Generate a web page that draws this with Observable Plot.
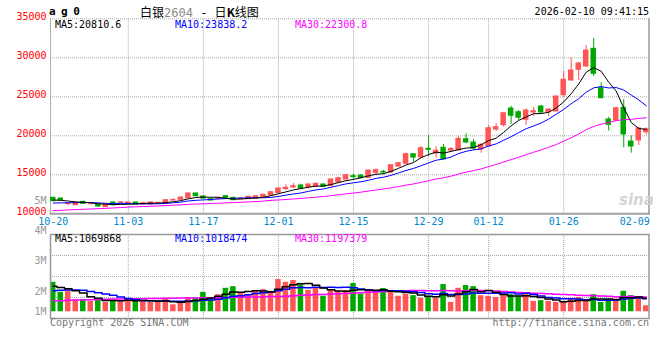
<!DOCTYPE html>
<html><head><meta charset="utf-8">
<script src="https://cdn.jsdelivr.net/npm/d3@7"></script>
<script src="https://cdn.jsdelivr.net/npm/@observablehq/plot@0.6"></script>
<style>
body{margin:0;background:#fff;}
#wrap{position:relative;width:660px;height:360px;overflow:hidden;font-family:"DejaVu Sans Mono",monospace;}
.t{position:absolute;white-space:nowrap;font-size:10px;line-height:12px;}
#wrap svg{position:absolute;left:0;}
</style></head><body><div id="wrap"></div>
<script>
// ---- data ----
const dates = [
"2025-10-20","2025-10-21","2025-10-22","2025-10-23","2025-10-24","2025-10-27","2025-10-28","2025-10-29","2025-10-30","2025-10-31",
"2025-11-03","2025-11-04","2025-11-05","2025-11-06","2025-11-07","2025-11-10","2025-11-11","2025-11-12","2025-11-13","2025-11-14",
"2025-11-17","2025-11-18","2025-11-19","2025-11-20","2025-11-21","2025-11-24","2025-11-25","2025-11-26","2025-11-27","2025-11-28",
"2025-12-01","2025-12-02","2025-12-03","2025-12-04","2025-12-05","2025-12-08","2025-12-09","2025-12-10","2025-12-11","2025-12-12",
"2025-12-15","2025-12-16","2025-12-17","2025-12-18","2025-12-19","2025-12-22","2025-12-23","2025-12-24","2025-12-25","2025-12-26",
"2025-12-29","2025-12-30","2025-12-31","2026-01-05","2026-01-06","2026-01-07","2026-01-08","2026-01-09",
"2026-01-12","2026-01-13","2026-01-14","2026-01-15","2026-01-16","2026-01-19","2026-01-20","2026-01-21","2026-01-22","2026-01-23",
"2026-01-26","2026-01-27","2026-01-28","2026-01-29","2026-01-30","2026-02-02","2026-02-03","2026-02-04","2026-02-05","2026-02-06",
"2026-02-09","2026-02-10"];
const tickDates = ["2025-10-20","2025-11-03","2025-11-17","2025-12-01","2025-12-15","2025-12-29","2026-01-12","2026-01-26","2026-02-09"];

const open = [12050,11960,11256,11103,11538,11230,11192,10846,11449,11410,
 11340,11449,11192,11192,11350,11359,11700,11795,12000,12602,
 12218,11872,11923,12256,12051,11923,11872,11930,12090,12346,
 12667,13154,13372,13628,13372,13500,13756,13590,14013,14397,
 14820,14910,14615,15256,15384,15295,16064,16410,17641,17218,
 18333,17731,18461,18115,18115,19564,19141,18243,18628,20807,
 21358,23499,23025,22051,22987,23756,23025,23115,25205,27089,
 28461,28884,31153,26102,22089,21961,23589,19269,19397,20461];
const high = [12120,12030,11450,11513,11600,11380,11256,11250,11520,11577,
 11480,11480,11400,11480,11490,11780,11961,12150,12650,12650,
 12300,11950,12128,12346,12100,12090,12230,12360,12500,12830,
 13300,13718,13884,13800,13846,13974,13800,14450,14692,15000,
 15077,15000,15600,15769,15551,16280,16577,17770,17700,18628,
 20038,18590,18884,18500,19910,20256,19525,18974,21320,21576,
 23025,23794,23243,23461,23628,23910,23400,25100,28243,30000,
 29436,31576,32474,26794,22384,23666,24653,19999,21102,21025];
const low = [11560,11640,11064,11064,11220,11190,10808,10800,11050,11282,
 11300,11160,11150,11170,11282,11330,11667,11760,11980,12200,
 11900,11650,11795,11930,11700,11833,11840,11900,12050,12300,
 12602,12987,13243,13200,13154,13410,13420,13550,13846,14350,
 14436,14500,14580,15038,15038,15200,15936,16282,16615,17150,
 17346,17128,16923,17900,18050,18974,18115,17769,18550,20551,
 21102,21448,21961,21320,22474,22897,22474,23050,24948,27000,
 27089,28800,27601,24750,20589,21871,18461,17769,18756,20077];
const close = [11615,11705,11333,11449,11282,11330,10936,11192,11103,11461,
 11449,11192,11360,11449,11400,11744,11760,12090,12602,12256,
 11961,11705,12026,11961,11744,11987,12180,12250,12436,12769,
 13243,13333,13538,13243,13756,13846,13461,14397,14564,14949,
 14692,14564,15551,15590,15295,16230,16487,17641,17218,18410,
 18205,18077,17000,18307,19615,19141,18372,18846,20974,21102,
 22897,22564,22307,23243,23153,22987,23371,25038,27179,28371,
 29269,30935,27948,24820,21410,23538,20166,18628,20935,20846];
const volume = [2360000,1560000,1640000,970000,970000,830000,1030000,750000,890000,890000,
 1030000,830000,890000,750000,750000,1070000,560000,670000,1100000,1100000,
 1560000,1070000,1370000,1880000,2010000,1510000,1370000,1640000,1770000,1640000,
 2580000,2360000,2500000,2150000,1720000,1910000,1240000,1770000,1640000,1690000,
 2260000,1420000,1690000,1560000,1860000,1690000,1240000,1390000,1290000,1070000,
 1240000,1070000,2180000,750000,1880000,2100000,2010000,1290000,1240000,1130000,
 1290000,1370000,1240000,1370000,830000,890000,830000,750000,750000,1030000,
 1150000,830000,1370000,750000,970000,970000,1640000,1290000,1070000,480000];

// moving-average values before the window fills
const ma5Lead = [11770,11730,11640,11510];
const ma10Lead = [11380,11400,11420,11430,11440,11440,11400,11350,11300];
const ma30Lead = [10420,10440,10500,10540,10570,10620,10660,10690,10750,10800,10850,10900,10930,10970,11010,11060,11100,11150,11200,11250,11280,11320,11360,11400,11440,11480,11520,11570,11630];
const vma5Lead = [2050000,1950000,1850000,1680000];
const vma10Lead = [1690000,1720000,1750000,1750000,1720000,1620000,1520000,1420000,1320000];
const vma30Lead = [890000,890000,920000,940000,940000,960000,980000,1000000,1020000,1020000,1030000,1040000,1050000,1060000,1070000,1080000,1090000,1100000,1100000,1110000,1120000,1130000,1140000,1150000,1160000,1170000,1180000,1190000,1200000];

const priceTicks = [10000,15000,20000,25000,30000,35000];
const volTicks = [1000000,2000000,3000000,4000000,5000000];
const maLabels = ["MA5:20810.6","MA10:23838.2","MA30:22300.8"];
const vmaLabels = ["MA5:1069868","MA10:1018474","MA30:1197379"];
const maColors = ["#000000","#0000ff","#ff00ff"];

// ---- build ----
function movingAverage(values, k, lead) {
  return values.map((v, i) => i < k - 1 ? lead[i] : d3.mean(values.slice(i - k + 1, i + 1)));
}
const ma5 = movingAverage(close, 5, ma5Lead), ma10 = movingAverage(close, 10, ma10Lead), ma30 = movingAverage(close, 30, ma30Lead);
const vma5 = movingAverage(volume, 5, vma5Lead), vma10 = movingAverage(volume, 10, vma10Lead), vma30 = movingAverage(volume, 30, vma30Lead);
const rows = dates.map((d, i) => ({date: d, open: open[i], high: high[i], low: low[i], close: close[i], vol: volume[i],
  ma5: ma5[i], ma10: ma10[i], ma30: ma30[i], vma5: vma5[i], vma10: vma10[i], vma30: vma30[i]}));
const up = rows.filter(r => r.close >= r.open), down = rows.filter(r => r.close < r.open);
const RED = "#ff5555", GREEN = "#00a800", GRID = "#a8a8a8";
const fmtDate = d => d.slice(5);
const xOpt = {type: "band", domain: dates, paddingInner: 0.27, paddingOuter: 0, round: false};
const svgStyle = {fontFamily: "DejaVu Sans Mono, monospace", fontSize: "10px", background: "transparent", overflow: "visible"};

const wrap = document.getElementById("wrap");
function place(el, top) { el.style.position = "absolute"; el.style.top = top + "px"; el.style.left = "0px"; wrap.appendChild(el); }

const main = Plot.plot({
  width: 660, height: 232, marginLeft: 50, marginRight: 11.5, marginTop: 18.3, marginBottom: 18.7,
  style: svgStyle,
  x: xOpt,
  y: {domain: [10000, 35000]},
  marks: [
    Plot.gridY(priceTicks.slice(1), {stroke: GRID, strokeOpacity: 1, strokeDasharray: "1,1"}),
    Plot.gridX(tickDates.slice(1, 8), {stroke: GRID, strokeOpacity: 1, strokeDasharray: "1,1"}),
    Plot.frame({anchor: "left", stroke: GRID, strokeDasharray: "1,1"}),
    Plot.frame({anchor: "right", stroke: "#999", strokeWidth: 1.5}),
    Plot.frame({anchor: "bottom", stroke: "#a0a0a0", strokeWidth: 2}),
    Plot.ruleX(up, {x: "date", y1: "low", y2: "high", stroke: RED}),
    Plot.ruleX(down, {x: "date", y1: "low", y2: "high", stroke: GREEN}),
    Plot.barY(up, {x: "date", y1: "open", y2: "close", fill: RED, insetTop: -0.5, insetBottom: -0.5}),
    Plot.barY(down, {x: "date", y1: "open", y2: "close", fill: GREEN, insetTop: -0.5, insetBottom: -0.5}),
    Plot.line(rows, {x: "date", y: "ma30", stroke: maColors[2], strokeWidth: 1}),
    Plot.line(rows, {x: "date", y: "ma10", stroke: maColors[1], strokeWidth: 1}),
    Plot.line(rows, {x: "date", y: "ma5", stroke: maColors[0], strokeWidth: 1}),
    Plot.axisY(priceTicks, {label: null, tickFormat: "d", tickSize: 0, tickPadding: 4, dy: -2, color: "#ff0000", fontSize: 10}),
    Plot.axisX(tickDates.slice(0, 8), {label: null, tickFormat: fmtDate, tickSize: 0, tickPadding: 4.5, color: "#0088cc", fontSize: 10}),
    Plot.axisX(tickDates.slice(8), {label: null, tickFormat: fmtDate, tickSize: 0, tickPadding: 4.5, color: "#0088cc", fontSize: 10, textAnchor: "end", dx: 11})
  ]
});
place(main, 0);

const volLo = -540000, volHi = 6190000;
const volGrid = [1, 2, 3].map(k => volLo + (volHi - volLo) * k / 4);
const vol = Plot.plot({
  width: 660, height: 100, marginLeft: 50, marginRight: 11.5, marginTop: 8, marginBottom: 8,
  style: svgStyle,
  x: {...xOpt, axis: null},
  y: {domain: [volLo, volHi], axis: null},
  marks: [
    Plot.gridY(volGrid, {stroke: GRID, strokeOpacity: 1, strokeDasharray: "1,1"}),
    Plot.gridX(tickDates.slice(1, 8), {stroke: GRID, strokeOpacity: 1, strokeDasharray: "1,1"}),
    Plot.barY(up, {x: "date", y: "vol", fill: RED}),
    Plot.barY(down, {x: "date", y: "vol", fill: GREEN}),
    Plot.line(rows, {x: "date", y: "vma30", stroke: maColors[2], strokeWidth: 1.5, curve: "step"}),
    Plot.line(rows, {x: "date", y: "vma10", stroke: maColors[1], strokeWidth: 1.5, curve: "step"}),
    Plot.line(rows, {x: "date", y: "vma5", stroke: maColors[0], strokeWidth: 1.5, curve: "step"}),
    Plot.frame({stroke: "#999", strokeWidth: 1.5})
  ]
});
place(vol, 226);

const volAxis = Plot.plot({
  width: 60, height: 140, marginLeft: 50, marginRight: 10, marginTop: 0, marginBottom: 0,
  style: svgStyle,
  y: {domain: [2000000, 5000000], range: [101, 10]},
  marks: [
    Plot.axisY(volTicks.slice(1), {label: null, tickFormat: d => d / 1e6 + "M", tickSize: 0, tickPadding: 4, color: "#999", fontSize: 10}),
    Plot.axisY(volTicks.slice(0, 1), {label: null, tickFormat: d => d / 1e6 + "M", tickSize: 0, tickPadding: 4, color: "#999", fontSize: 10, dy: -10})
  ]
});
place(volAxis, 190);

// ---- text ----
function addText(html, css) {
  const d = document.createElement("div");
  d.className = "t"; d.innerHTML = html;
  Object.assign(d.style, css);
  wrap.appendChild(d);
}
addText("ag0", {left: "49px", top: "6px", fontWeight: "bold", fontSize: "11px", letterSpacing: "5.5px", color: "#000"});
addText('<span style="font-family:\'Noto Sans CJK SC\'">白银</span><span style="color:#888">2604</span><span style="font-family:\'DejaVu Sans Mono\'">&nbsp;-&nbsp;</span><span style="font-family:\'Noto Sans CJK SC\'">日<b>K</b>线图</span>',
  {left: "140px", top: "6px", fontSize: "12px", lineHeight: "12px", color: "#000"});
addText("2026-02-10 09:41:15", {right: "11px", top: "6px", color: "#000"});
[55, 175, 295].forEach((x, k) => {
  addText(maLabels[k], {left: x + "px", top: "18.5px", color: maColors[k]});
  addText(vmaLabels[k], {left: x + "px", top: "233px", color: maColors[k]});
});
addText("Copyright 2026 SINA.COM", {left: "50px", top: "317px", color: "#777"});
addText("http://finance.sina.com.cn", {right: "11px", top: "317px", color: "#777"});
addText("sina", {left: "619px", top: "192px", fontSize: "15px", fontWeight: "bold", fontStyle: "italic", color: "#d4d4d4", fontFamily: "DejaVu Sans, sans-serif", lineHeight: "16px"});
</script></body></html>
